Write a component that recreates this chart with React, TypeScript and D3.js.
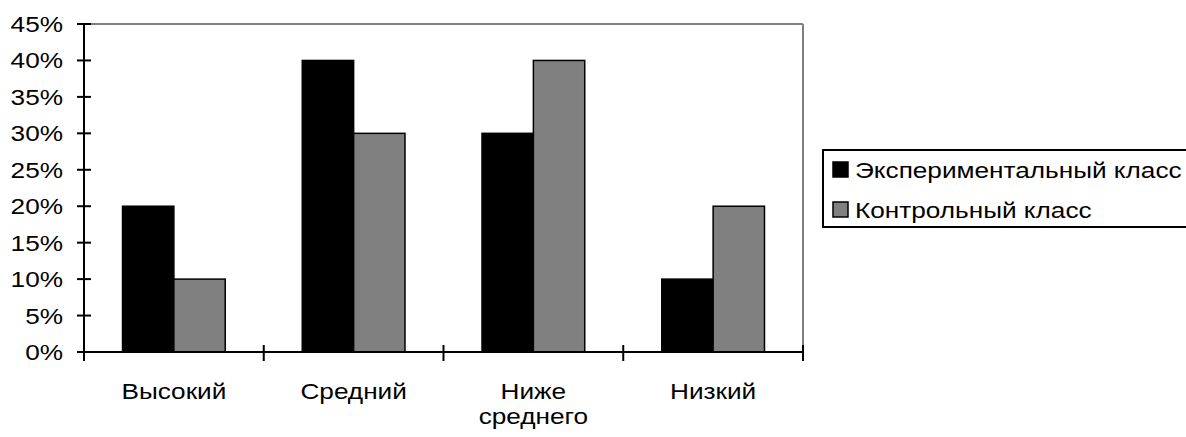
import React from "react";
import * as d3 from "d3";

const categories = ["Высокий", "Средний", "Ниже среднего", "Низкий"];
const categoryLines = [["Высокий"], ["Средний"], ["Ниже", "среднего"], ["Низкий"]];
const seriesNames = ["Экспериментальный класс", "Контрольный класс"];
const experimental = [0.2, 0.4, 0.3, 0.1];
const control = [0.1, 0.3, 0.4, 0.2];
const yTicks = [0, 0.05, 0.1, 0.15, 0.2, 0.25, 0.3, 0.35, 0.4, 0.45];
const seriesColors = ["#000000", "#808080"];

const W = 1186;
const H = 437;
const left = 84;
const right = 803;
const top = 24;
const bottom = 352;
const SX = 1.19;
const FONT = "'Liberation Sans', Arial, sans-serif";
const FS = 22;

function T({ x, y, anchor, children }: { x: number; y: number; anchor: string; children: React.ReactNode }) {
  return (
    <text
      transform={`translate(${x},${y}) scale(${SX},1)`}
      textAnchor={anchor}
      fontFamily={FONT}
      fontSize={FS}
      fill="#000"
    >
      {children}
    </text>
  );
}

export default function App() {
  const x = d3.scaleBand<string>().domain(categories).range([left, right]).padding(0);
  const inner = d3
    .scaleBand<string>()
    .domain(seriesNames)
    .range([0, x.bandwidth()])
    .paddingInner(0)
    .paddingOuter(0.75);
  const y = d3.scaleLinear().domain([0, 0.45]).range([bottom, top]);
  const fmt = d3.format(".0%");
  const series = [experimental, control];

  return (
    <svg width={W} height={H} style={{ position: "absolute", left: 0, top: 0, background: "#fff" }}>
      <rect x={0} y={0} width={W} height={H} fill="#fff" />
      <line x1={left} x2={right} y1={top} y2={top} stroke="#808080" strokeWidth={2} />
      <line x1={right} x2={right} y1={top} y2={bottom} stroke="#808080" strokeWidth={2} />
      {series.map((vals, si) =>
        vals.map((v, ci) => (
          <rect
            key={`${si}-${ci}`}
            x={(x(categories[ci]) as number) + (inner(seriesNames[si]) as number)}
            y={y(v)}
            width={inner.bandwidth()}
            height={y(0) - y(v)}
            fill={seriesColors[si]}
            stroke="#000"
            strokeWidth={1.5}
          />
        ))
      )}
      <line x1={left} x2={left} y1={top} y2={bottom + 9} stroke="#000" strokeWidth={2} />
      {yTicks.map((t) => (
        <g key={t}>
          <line x1={left - 7} x2={left + 7} y1={y(t)} y2={y(t)} stroke="#000" strokeWidth={2} />
          <T x={63} y={y(t) + 8} anchor="end">
            {fmt(t)}
          </T>
        </g>
      ))}
      <line x1={left} x2={right} y1={bottom} y2={bottom} stroke="#000" strokeWidth={2} />
      {categories.map((c) => (
        <line
          key={c}
          x1={(x(c) as number) + x.bandwidth()}
          x2={(x(c) as number) + x.bandwidth()}
          y1={bottom - 7}
          y2={bottom + 9}
          stroke="#000"
          strokeWidth={2}
        />
      ))}
      {categories.map((c, i) =>
        categoryLines[i].map((ln, li) => (
          <T key={c + li} x={(x(c) as number) + x.bandwidth() / 2} y={399 + li * 25} anchor="middle">
            {ln}
          </T>
        ))
      )}
      <rect x={823} y={150} width={W - 823 + 10} height={77} fill="#fff" stroke="#000" strokeWidth={2} />
      {seriesNames.map((s, i) => (
        <g key={s}>
          <rect x={833} y={162 + i * 40} width={15} height={15} fill={seriesColors[i]} stroke="#000" strokeWidth={1.5} />
          <T x={855} y={178 + i * 40} anchor="start">
            {s}
          </T>
        </g>
      ))}
    </svg>
  );
}
